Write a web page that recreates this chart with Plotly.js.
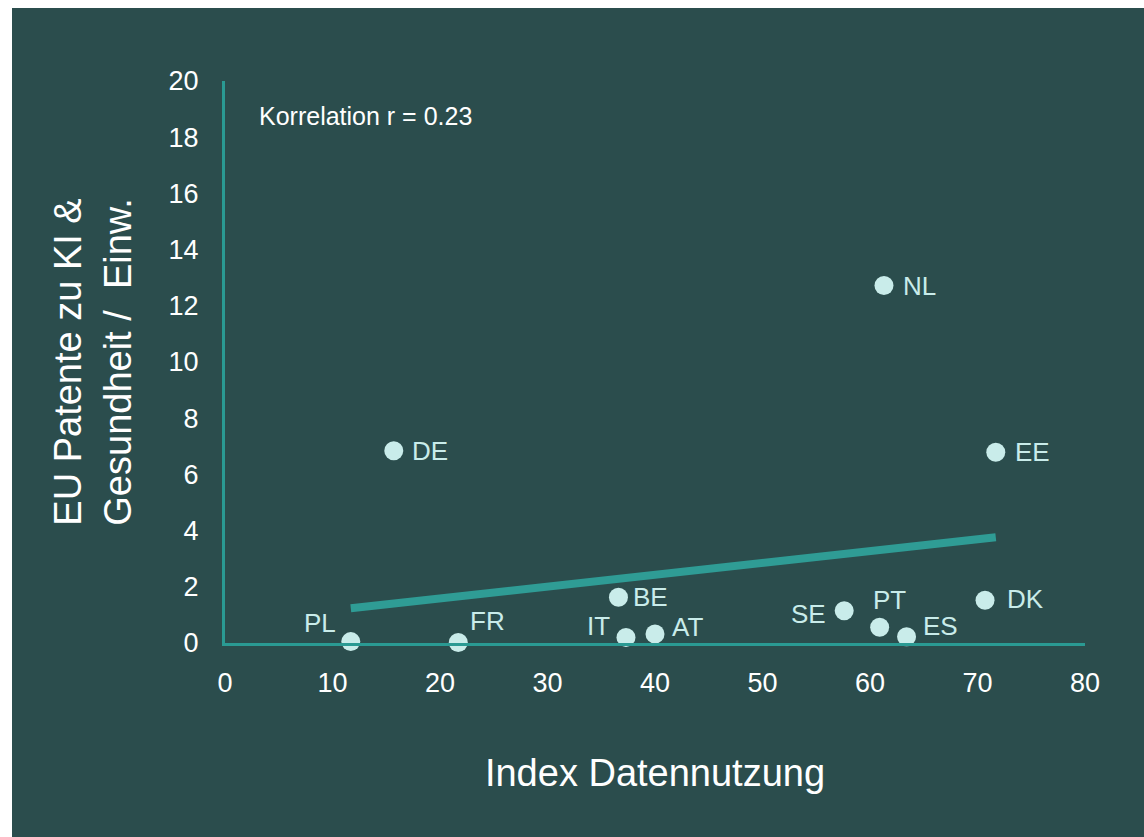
<!DOCTYPE html>
<html>
<head>
<meta charset="utf-8">
<script src="https://cdn.plot.ly/plotly-3.0.1.min.js"></script>
<style>
  html, body { margin: 0; padding: 0; background: #ffffff; }
  #chart { position: absolute; left: 12px; top: 8px; width: 1132px; height: 829px; }
</style>
</head>
<body>
<div id="chart"></div>
<script>
// Data
const countries = ["PL", "FR", "DE", "BE", "IT", "AT", "SE", "PT", "ES", "NL", "DK", "EE"];
const dataIndex = [11.7, 21.7, 15.7, 36.6, 37.3, 40.0, 57.6, 60.9, 63.4, 61.3, 70.7, 71.7];
const patents   = [0.05, 0.02, 6.84, 1.63, 0.2, 0.32, 1.15, 0.56, 0.22, 12.72, 1.52, 6.79];
const xTicks = [0, 10, 20, 30, 40, 50, 60, 70, 80];
const yTicks = [0, 2, 4, 6, 8, 10, 12, 14, 16, 18, 20];
const corrText = "Korrelation r = 0.23";

// label placement styles (pixel offsets of label anchor from marker centre)
const labelStyle = {
  PL: {xa: "right", dx: -13, dy: 19},
  FR: {xa: "left",  dx: 10,  dy: 21},
  DE: {xa: "left",  dx: 16,  dy: 0},
  BE: {xa: "left",  dx: 13,  dy: 0},
  IT: {xa: "right", dx: -14, dy: 11},
  AT: {xa: "left",  dx: 15,  dy: 7},
  SE: {xa: "right", dx: -16, dy: -3},
  PT: {xa: "left",  dx: -9,  dy: 27},
  ES: {xa: "left",  dx: 14,  dy: 11},
  NL: {xa: "left",  dx: 17,  dy: 0},
  DK: {xa: "left",  dx: 20,  dy: 1},
  EE: {xa: "left",  dx: 17,  dy: 0}
};

// least-squares trend line from the data
const n = dataIndex.length;
const mx = dataIndex.reduce((a, b) => a + b, 0) / n;
const my = patents.reduce((a, b) => a + b, 0) / n;
let sxy = 0, sxx = 0;
for (let i = 0; i < n; i++) { sxy += (dataIndex[i] - mx) * (patents[i] - my); sxx += (dataIndex[i] - mx) ** 2; }
const slope = sxy / sxx, icpt = my - slope * mx;
const xMin = Math.min(...dataIndex), xMax = Math.max(...dataIndex);

const BG = "#2b4d4d";
const TEAL = "#2a9a93";
const LIGHT = "#c9ecea";
const FONT = "Liberation Sans, Arial, sans-serif";

const trend = {
  x: [xMin, xMax], y: [icpt + slope * xMin, icpt + slope * xMax],
  mode: "lines", type: "scatter", hoverinfo: "skip",
  line: {color: "#2f9c95", width: 8}, cliponaxis: false, showlegend: false
};
const pts = {
  x: dataIndex, y: patents, mode: "markers", type: "scatter",
  marker: {color: LIGHT, size: 19}, cliponaxis: false, showlegend: false
};

const annotations = countries.map((c, i) => ({
  x: dataIndex[i], y: patents[i], xref: "x", yref: "y",
  text: c, showarrow: false, xanchor: labelStyle[c].xa, yanchor: "middle",
  xshift: labelStyle[c].dx, yshift: labelStyle[c].dy,
  font: {family: FONT, size: 26, color: LIGHT}
}));
annotations.push({
  x: 0.037, y: 0.937, xref: "paper", yref: "paper", text: corrText,
  showarrow: false, xanchor: "left", yanchor: "middle",
  font: {family: FONT, size: 25, color: "#ffffff"}
});

const layout = {
  width: 1132, height: 829,
  paper_bgcolor: BG, plot_bgcolor: BG,
  margin: {l: 212.5, r: 59, t: 73, b: 194},
  font: {family: FONT, color: "#ffffff"},
  showlegend: false,
  xaxis: {
    range: [0, 80], tickvals: xTicks, ticktext: xTicks.map(String),
    showgrid: false, zeroline: false, showline: true, linecolor: TEAL, linewidth: 3,
    ticks: "outside", ticklen: 14, tickcolor: "rgba(0,0,0,0)",
    tickfont: {family: FONT, size: 27, color: "#ffffff"},
    title: {text: "Index Datennutzung", font: {family: FONT, size: 38, color: "#ffffff"}, standoff: 62}
  },
  yaxis: {
    range: [0, 20], tickvals: yTicks, ticktext: yTicks.map(String),
    showgrid: false, zeroline: false, showline: true, linecolor: TEAL, linewidth: 3,
    ticks: "outside", ticklen: 18, tickcolor: "rgba(0,0,0,0)",
    tickfont: {family: FONT, size: 27, color: "#ffffff"},
    title: {text: "EU Patente zu KI &<br>Gesundheit /  Einw.", font: {family: FONT, size: 38, color: "#ffffff"}, standoff: 26}
  },
  annotations: annotations
};

Plotly.newPlot("chart", [trend, pts], layout, {displayModeBar: false, staticPlot: true});
</script>
</body>
</html>
